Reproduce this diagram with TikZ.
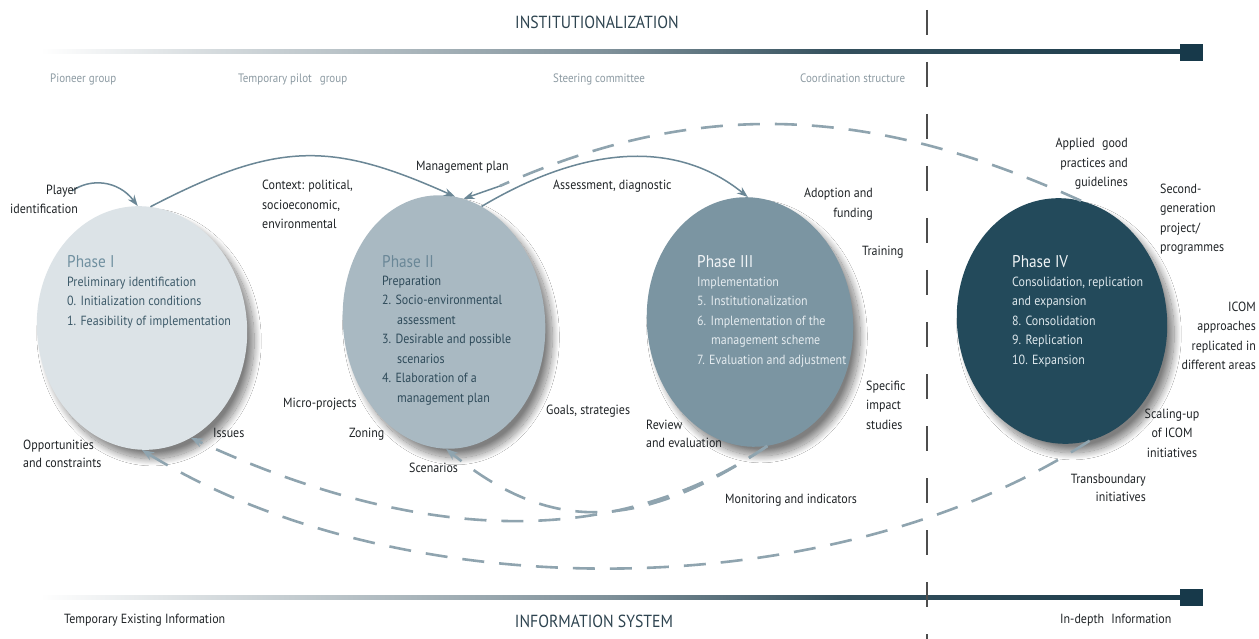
\documentclass[tikz,border=0pt]{standalone}
\usepackage{fontspec}
\setmainfont{PT Sans}[FakeStretch=0.9]
\usetikzlibrary{arrows.meta,shapes.geometric,shadows.blur}
\definecolor{labelc}{HTML}{1F2326}
\definecolor{grayc}{HTML}{8D9BA3}
\definecolor{titlec}{HTML}{2E4450}
\definecolor{arrc}{HTML}{6B8796}
\definecolor{dashc}{HTML}{8FA4AF}
\definecolor{vlinec}{HTML}{4D4D4D}
\definecolor{cI}{HTML}{DCE3E7}
\definecolor{cII}{HTML}{A9B9C2}
\definecolor{cIII}{HTML}{7B95A2}
\definecolor{cIV}{HTML}{234A5B}
\definecolor{tIt}{HTML}{7090A0}
\definecolor{tIb}{HTML}{3D5A69}
\definecolor{tIIt}{HTML}{6A8797}
\definecolor{tIIb}{HTML}{2F4B5A}
\definecolor{tIIIt}{HTML}{F2F5F7}
\definecolor{tIIIb}{HTML}{E4EBEF}
\definecolor{tIVt}{HTML}{F0F4F6}
\definecolor{tIVb}{HTML}{DDE7EC}
\definecolor{barA}{HTML}{D3D9DC}
\definecolor{barB}{HTML}{7E9099}
\definecolor{barC}{HTML}{34505D}
\definecolor{barD}{HTML}{1C3C4B}
\definecolor{barsq}{HTML}{17394A}
\pgfdeclarehorizontalshading{barshade}{100bp}{color(0bp)=(white); color(25bp)=(white); color(33bp)=(barA); color(50bp)=(barB); color(60bp)=(barC); color(75bp)=(barD); color(100bp)=(barD)}
\newcommand\bodyf{\fontsize{13.3}{19.5}\selectfont}
\newcommand\tightf{\fontsize{13.3}{18}\selectfont}
\newcommand\smallf{\fontsize{12.2}{19}\selectfont}
\newcommand\titlef{\fontsize{17.5}{21}\selectfont}
\newcommand\phasef{\fontsize{17}{20}\selectfont}
\begin{document}
\begin{tikzpicture}[x=1pt,y=-1pt,
  phase/.style={ellipse, inner sep=0pt, rotate=6, blur shadow={shadow xshift=7pt,shadow yshift=-9pt,shadow blur radius=7pt,shadow blur steps=20,shadow opacity=50}},
  lbl/.style={inner sep=0pt, font=\bodyf, text=labelc, align=left},
  grp/.style={inner sep=0pt, font=\smallf, text=grayc},
  bigt/.style={inner sep=0pt, font=\titlef, text=titlec},
  ptitle/.style={inner sep=0pt, font=\phasef},
  pbody/.style={inner sep=0pt, font=\bodyf, align=left},
  arr/.style={draw=arrc, line width=1.5pt, -{Stealth[length=11pt,width=8pt]}},
  dsh/.style={draw=dashc, line width=2.6pt, dash pattern=on 22pt off 15pt},
  dsharr/.style={dsh, -{Stealth[length=12pt,width=9pt]}},
  vline/.style={draw=vlinec, line width=1.6pt, dash pattern=on 25pt off 27pt}
]
\useasboundingbox (0,0) rectangle (1259,639);
\fill[white] (0,0) rectangle (1259,639);

% bars
\shade[shading=barshade] (40,50) rectangle (1180,54);
\fill[barsq] (1180,44) rectangle (1203,61);
\shade[shading=barshade] (40,595) rectangle (1180,599);
\fill[barsq] (1180,589) rectangle (1203,606);

% vertical divider
\draw[vline] (927,10) -- (927,639);

% phases
\node[phase, fill=cI, minimum width=210pt, minimum height=244pt] (p1) at (142,328) {};
\node[phase, fill=cII, minimum width=202pt, minimum height=254pt] (p2) at (444,322) {};
\node[phase, fill=cIII, minimum width=206pt, minimum height=250pt] (p3) at (750,322) {};
\node[phase, fill=cIV, minimum width=210pt, minimum height=246pt] (p4) at (1062,321) {};

% coordinates for free ends
\coordinate (pl) at (72,191);
\coordinate (mp) at (500,186);

% solid arrows (top)
\draw[arr] (pl) .. controls (90,178) and (118,180) .. (p1.86);
\draw[arr] (p1.80) .. controls (277,141) and (331,141) .. (p2.79);
\draw[arr] (p2.66) .. controls (590,142) and (680,142) .. (p3.85);
\draw[dsh] (p4.75) .. controls (862,101) and (691,101) .. (mp);
\draw[arr] (mp) -- (p2.75);

% dashed arrows (bottom)
\draw[dsharr] (p3.272) .. controls (618,547) and (427,547) .. (p1.288);
\draw[dsharr] (p3.272) .. controls (638,533) and (549,533) .. (p2.265);
\draw[dsharr] (p4.277) .. controls (830,609) and (400,609) .. (p1.264);

% top and bottom titles
\node[bigt, anchor=base] (tinst) at (597,29) {INSTITUTIONALIZATION};
\node[bigt, anchor=base] (tinfo) at (594,627) {INFORMATION SYSTEM};

\node[grp, anchor=base west] (g1) at (50,83) {Pioneer group};
\node[grp, anchor=base west] (g2) at (238,83) {Temporary pilot\hspace{8pt}group};
\node[grp, anchor=base west] (g3) at (553,83) {Steering committee};
\node[grp, anchor=base west] (g4) at (800,83) {Coordination structure};

\node[lbl, anchor=base west] (i1) at (64,623) {Temporary Existing Information};
\node[lbl, anchor=base west] (i2) at (1060,623) {In-depth\hspace{4pt} Information};

% phase texts (base anchor = baseline of last line)
\node[ptitle, text=tIt, anchor=base west] (h1) at (67,268) {Phase I};
\node[pbody, text=tIb, anchor=base west] (b1) at (67,325) {Preliminary identification\\0. Initialization conditions\\1. Feasibility of implementation};

\node[ptitle, text=tIIt, anchor=base west] (h2) at (382,268) {Phase II};
\node[pbody, text=tIIb, anchor=base west] (b2) at (382,402) {Preparation\\2. Socio-environmental\\\hspace*{15pt}assessment\\3. Desirable and possible\\\hspace*{15pt}scenarios\\4. Elaboration of a\\\hspace*{15pt}management plan};

\node[ptitle, text=tIIIt, anchor=base west] (h3) at (697,268) {Phase III};
\node[pbody, text=tIIIb, anchor=base west] (b3) at (697,364) {Implementation\\5. Institutionalization\\6. Implementation of the\\\hspace*{14pt}management scheme\\7. Evaluation and adjustment};

\node[ptitle, text=tIVt, anchor=base west] (h4) at (1012,268) {Phase IV};
\node[pbody, text=tIVb, anchor=base west] (b4) at (1012,364) {Consolidation, replication\\and expansion\\8. Consolidation\\9. Replication\\10. Expansion};

% labels (base anchor = baseline of last line)
\node[lbl, align=right, anchor=base east] (lplayer) at (78,214) {Player\\identification};
\node[lbl, anchor=base west] (lcontext) at (262,229) {Context: political,\\socioeconomic,\\environmental};
\node[lbl, anchor=base west] (lmp) at (416,171) {Management plan};
\node[lbl, anchor=base west] (lassess) at (553,190) {Assessment, diagnostic};
\node[lbl, align=right, anchor=base east] (ladopt) at (873,217.5) {Adoption and\\funding};
\node[lbl, anchor=base west] (ltrain) at (862,256) {Training};
\node[lbl, align=right, anchor=base east] (lapplied) at (1128,187) {Applied\hspace{4pt} good\\practices and\\guidelines};
\node[lbl, anchor=base west] (lsecond) at (1160,251.5) {Second-\\generation\\project/\\programmes};
\node[lbl, align=right, anchor=base east] (licom) at (1256,369.5) {ICOM\\approaches\\replicated in\\different areas};
\node[lbl, anchor=base west] (lspec) at (866,429) {Specific\\impact\\studies};
\node[lbl, anchor=base west] (lgoals) at (546,414) {Goals, strategies};
\node[lbl, anchor=base west] (lmicro) at (283,407) {Micro-projects};
\node[lbl, anchor=base west] (lzoning) at (349,437) {Zoning};
\node[lbl, anchor=base west] (lscen) at (409,472) {Scenarios};
\node[lbl, anchor=base west] (lissues) at (213,437) {Issues};
\node[lbl, font=\tightf, anchor=base west] (lopp) at (23,467) {Opportunities\\and constraints};
\node[lbl, font=\tightf, anchor=base west] (lreview) at (646,447) {Review\\and evaluation};
\node[lbl, anchor=base west] (lmon) at (725,503) {Monitoring and indicators};
\node[lbl, align=center, anchor=base] (lscale) at (1172,457) {Scaling-up\\of ICOM\\initiatives};
\node[lbl, font=\tightf, align=right, anchor=base east] (ltrans) at (1146,501) {Transboundary\\initiatives};
\end{tikzpicture}
\end{document}
